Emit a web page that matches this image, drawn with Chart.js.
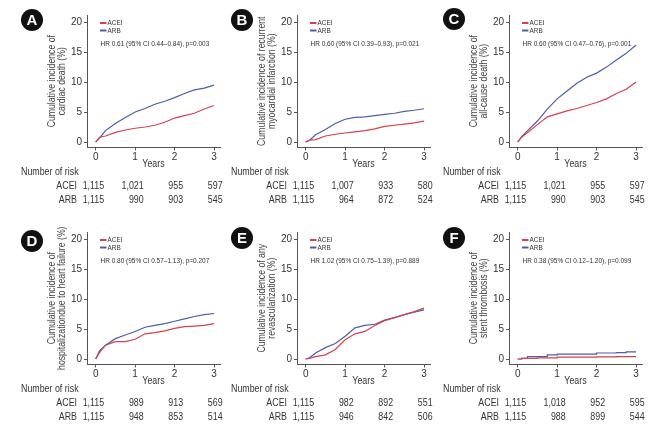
<!DOCTYPE html>
<html>
<head>
<meta charset="utf-8">
<script src="https://cdn.jsdelivr.net/npm/chart.js@4.4.1/dist/chart.umd.min.js"></script>
<style>
  html, body { margin: 0; padding: 0; background: #fff; }
  #wrap { position: relative; width: 656px; height: 427px; overflow: hidden; }
  canvas { position: absolute; }
</style>
</head>
<body>
<div id="wrap"></div>
<script>
const years = [0, 0.1, 0.25, 0.5, 0.75, 1, 1.25, 1.5, 1.75, 2, 2.25, 2.5, 2.75, 3];
const yearTicks = [0, 1, 2, 3];
const pctTicks = [0, 5, 10, 15, 20];
const groups = ["ACEI", "ARB"];

// cumulative incidence (%)
const cardiacAcei = [0, 0.8, 1.0, 1.6, 2.0, 2.3, 2.5, 2.8, 3.3, 4.0, 4.4, 4.8, 5.5, 6.1];
const cardiacArb = [0, 0.7, 1.9, 3.1, 4.1, 5.0, 5.6, 6.3, 6.8, 7.4, 8.1, 8.7, 9.0, 9.5];
const miAcei = [0, 0.3, 0.4, 1.0, 1.3, 1.5, 1.7, 1.9, 2.2, 2.6, 2.8, 3.0, 3.2, 3.5];
const miArb = [0, 0.3, 1.2, 2.1, 3.1, 3.8, 4.1, 4.2, 4.4, 4.6, 4.8, 5.1, 5.3, 5.55];
const deathAcei = [0, 0.8, 1.6, 2.9, 4.2, 4.7, 5.2, 5.6, 6.1, 6.6, 7.2, 8.1, 8.8, 10.0];
const deathArb = [0, 0.9, 1.9, 3.5, 5.5, 7.2, 8.5, 9.8, 10.8, 11.5, 12.5, 13.7, 14.8, 16.2];
const hfAcei = [0, 1.1, 2.3, 2.9, 2.9, 3.3, 4.2, 4.4, 4.7, 5.1, 5.4, 5.5, 5.6, 5.9];
const hfArb = [0, 1.4, 2.3, 3.4, 4.0, 4.6, 5.3, 5.6, 5.9, 6.3, 6.7, 7.1, 7.4, 7.6];
const revascAcei = [0, 0.1, 0.4, 0.7, 1.6, 3.2, 4.2, 4.6, 5.6, 6.4, 6.9, 7.4, 7.9, 8.5];
const revascArb = [0, 0.2, 1.0, 1.9, 2.6, 3.8, 5.2, 5.6, 5.8, 6.5, 6.9, 7.4, 7.8, 8.2];
const stAcei = [0, 0.1, 0.1, 0.2, 0.2, 0.3, 0.3, 0.3, 0.3, 0.35, 0.35, 0.4, 0.4, 0.4];
const stArb = [0, 0.1, 0.4, 0.4, 0.7, 0.8, 0.8, 0.8, 0.8, 1.0, 1.0, 1.05, 1.2, 1.2];

// number at risk at years 0..3
const riskCardiacAcei = ["1,115", "1,021", "955", "597"];
const riskCardiacArb = ["1,115", "990", "903", "545"];
const riskMiAcei = ["1,115", "1,007", "933", "580"];
const riskMiArb = ["1,115", "964", "872", "524"];
const riskDeathAcei = ["1,115", "1,021", "955", "597"];
const riskDeathArb = ["1,115", "990", "903", "545"];
const riskHfAcei = ["1,115", "989", "913", "569"];
const riskHfArb = ["1,115", "948", "853", "514"];
const riskRevascAcei = ["1,115", "982", "892", "551"];
const riskRevascArb = ["1,115", "946", "842", "506"];
const riskStAcei = ["1,115", "1,018", "952", "595"];
const riskStArb = ["1,115", "988", "899", "544"];

const RED = "#d6404f";
const BLUE = "#4b5ea8";
const TXT = "#333";
const AXIS = "#555";
const FONT = "'Liberation Sans', Arial, sans-serif";
const NARROW = 0.82; // squeeze to mimic the condensed face of the original

const panels = [
  { tag: "A", left: 0, top: 0, badgeY: 20, title: ["Cumulative incidence of", "cardiac death (%)"],
    acei: cardiacAcei, arb: cardiacArb, hr: "HR 0.61 (95% CI 0.44\u20130.84), p=0.003",
    riskAcei: riskCardiacAcei, riskArb: riskCardiacArb },
  { tag: "B", left: 210, top: 0, badgeY: 20, title: ["Cumulative incidence of recurrent", "myocardial infarction (%)"],
    acei: miAcei, arb: miArb, hr: "HR 0.60 (95% CI 0.39\u20130.93), p=0.021",
    riskAcei: riskMiAcei, riskArb: riskMiArb },
  { tag: "C", left: 422, top: 0, badgeY: 19, title: ["Cumulative incidence of", "all-cause death (%)"],
    acei: deathAcei, arb: deathArb, hr: "HR 0.60 (95% CI 0.47\u20130.76), p=0.001",
    riskAcei: riskDeathAcei, riskArb: riskDeathArb },
  { tag: "D", left: 0, top: 217, badgeY: 24, title: ["Cumulative incidence of", "hospitalizationdue to heart failure (%)"],
    acei: hfAcei, arb: hfArb, hr: "HR 0.80 (95% CI 0.57\u20131.13), p=0.207",
    riskAcei: riskHfAcei, riskArb: riskHfArb },
  { tag: "E", left: 210, top: 217, badgeY: 21, title: ["Cumulative incidence of any", "revascularization (%)"],
    acei: revascAcei, arb: revascArb, hr: "HR 1.02 (95% CI 0.75\u20131.39), p=0.889",
    riskAcei: riskRevascAcei, riskArb: riskRevascArb },
  { tag: "F", left: 422, top: 217, badgeY: 21, title: ["Cumulative incidence of", "stent thrombosis (%)"],
    acei: stAcei, arb: stArb, hr: "HR 0.38 (95% CI 0.12\u20131.20), p=0.099",
    riskAcei: riskStAcei, riskArb: riskStArb, stepped: true }
];

Chart.defaults.font.family = FONT;

// condensed text helper
function say(ctx, s, x, y, size, align, color, rotate) {
  ctx.save();
  ctx.translate(x, y);
  if (rotate) ctx.rotate(-Math.PI / 2);
  ctx.scale(NARROW, 1);
  ctx.font = size + "px " + FONT;
  ctx.textAlign = align;
  ctx.textBaseline = "middle";
  ctx.fillStyle = color;
  ctx.fillText(s, 0, 0);
  ctx.restore();
}

const wrap = document.getElementById("wrap");

panels.forEach(p => {
  const cv = document.createElement("canvas");
  cv.width = 232;
  cv.height = 212;
  cv.style.left = p.left + "px";
  cv.style.top = p.top + "px";
  wrap.appendChild(cv);

  // badge, titles, legend, HR text and the risk table
  const extras = {
    id: "extras",
    afterDraw(chart) {
      const ctx = chart.ctx;
      const ca = chart.chartArea;
      const xs = chart.scales.x;
      ctx.save();

      ctx.fillStyle = "#111";
      ctx.beginPath();
      ctx.arc(32, p.badgeY, 11, 0, Math.PI * 2);
      ctx.fill();
      ctx.fillStyle = "#fff";
      ctx.font = "bold 15px " + FONT;
      ctx.textAlign = "center";
      ctx.textBaseline = "middle";
      ctx.fillText(p.tag, 32, p.badgeY + 1);

      // y title, two lines
      const midY = (ca.top + ca.bottom) / 2;
      p.title.forEach((line, i) => say(ctx, line, 52 + i * 10.5, midY, 10.6, "center", "#444", true));

      // x title
      say(ctx, "Years", (xs.left + xs.right) / 2, 164.5, 10.8, "center", TXT);

      [RED, BLUE].forEach((col, i) => {
        const y = ca.top + 8 + i * 7.5;
        ctx.strokeStyle = col;
        ctx.lineWidth = 2;
        ctx.beginPath();
        ctx.moveTo(ca.left + 13, y);
        ctx.lineTo(ca.left + 19.5, y);
        ctx.stroke();
        say(ctx, groups[i], ca.left + 20.5, y, 7.8, "left", TXT);
      });
      say(ctx, p.hr, ca.left + 13.5, ca.top + 28.5, 7.9, "left", TXT);

      say(ctx, "Number of risk", 21, 172, 10.8, "left", TXT);
      [p.riskAcei, p.riskArb].forEach((row, r) => {
        const y = 186 + r * 14.5;
        say(ctx, groups[r], ca.left - 10, y, 10.8, "right", TXT);
        row.forEach((n, i) => {
          say(ctx, n, xs.getPixelForValue(yearTicks[i]) + 8.5, y, 10.8, "right", TXT);
        });
      });
      ctx.restore();
    }
  };

  new Chart(cv, {
    type: "line",
    data: {
      datasets: [
        { label: groups[0], data: years.map((t, i) => ({ x: t, y: p.acei[i] })), borderColor: RED },
        { label: groups[1], data: years.map((t, i) => ({ x: t, y: p.arb[i] })), borderColor: BLUE }
      ]
    },
    options: {
      responsive: false,
      animation: false,
      layout: { padding: { left: 0, right: 12, top: 15, bottom: 41.6 } },
      plugins: { legend: { display: false }, tooltip: { enabled: false } },
      elements: {
        point: { radius: 0 },
        line: { borderWidth: 1.2, tension: 0, stepped: p.stepped ? "before" : false, fill: false }
      },
      scales: {
        x: {
          type: "linear", min: -0.22, max: 3.15,
          afterBuildTicks: s => { s.ticks = yearTicks.map(v => ({ value: v })); },
          afterFit: s => { s.height = 23; },
          grid: { drawOnChartArea: false, drawTicks: true, tickLength: 3, tickColor: AXIS },
          border: { display: true, color: AXIS, width: 1 },
          ticks: { color: TXT, font: { size: 10, lineHeight: 1 }, padding: 2, maxRotation: 0 }
        },
        y: {
          min: -0.9, max: 21.2,
          afterBuildTicks: s => { s.ticks = pctTicks.map(v => ({ value: v })); },
          afterFit: s => { s.width = 87; },
          grid: { drawOnChartArea: false, drawTicks: true, tickLength: 3, tickColor: AXIS },
          border: { display: true, color: AXIS, width: 1 },
          ticks: { color: TXT, font: { size: 10 }, padding: 2 }
        }
      }
    },
    plugins: [extras]
  });
});
</script>
</body>
</html>
